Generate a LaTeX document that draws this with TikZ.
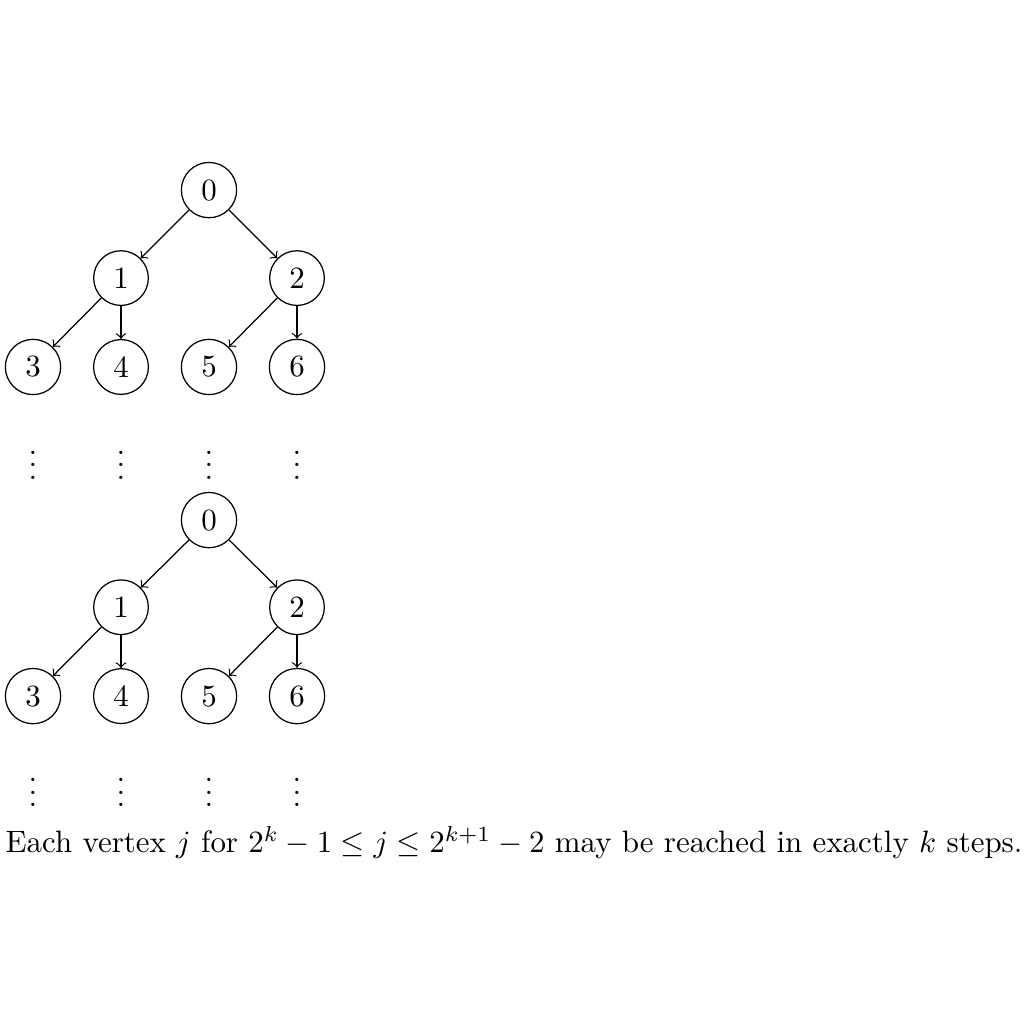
\documentclass[tikz,border=0pt]{standalone}

\begin{document}
\begin{tikzpicture}[x=1cm,y=1cm,vertex/.style={draw,circle},link/.style={->}]
\path[use as bounding box] (0,0) rectangle (11.636,-11.636);
% first tree
\node[vertex] (a0) at (2.375,-2.16) {0};
\node[vertex] (a1) at (1.375,-3.16) {1};
\node[vertex] (a2) at (3.375,-3.16) {2};
\node[vertex] (a3) at (0.375,-4.17) {3};
\node[vertex] (a4) at (1.375,-4.17) {4};
\node[vertex] (a5) at (2.375,-4.17) {5};
\node[vertex] (a6) at (3.375,-4.17) {6};
\draw[link] (a0) -- (a1);
\draw[link] (a0) -- (a2);
\draw[link] (a1) -- (a3);
\draw[link] (a1) -- (a4);
\draw[link] (a2) -- (a5);
\draw[link] (a2) -- (a6);
\foreach \i/\x in {3/0.375,4/1.375,5/2.375,6/3.375}
  \node[inner sep=0pt] (ad\i) at (\x,-5.18) {$\vdots$};
% second tree
\node[vertex] (b0) at (2.375,-5.91) {0};
\node[vertex] (b1) at (1.375,-6.9) {1};
\node[vertex] (b2) at (3.375,-6.9) {2};
\node[vertex] (b3) at (0.375,-7.91) {3};
\node[vertex] (b4) at (1.375,-7.91) {4};
\node[vertex] (b5) at (2.375,-7.91) {5};
\node[vertex] (b6) at (3.375,-7.91) {6};
\draw[link] (b0) -- (b1);
\draw[link] (b0) -- (b2);
\draw[link] (b1) -- (b3);
\draw[link] (b1) -- (b4);
\draw[link] (b2) -- (b5);
\draw[link] (b2) -- (b6);
\foreach \i/\x in {3/0.375,4/1.375,5/2.375,6/3.375}
  \node[inner sep=0pt] (bd\i) at (\x,-8.9) {$\vdots$};
\node[anchor=base west,inner sep=0pt] (note) at (0.057,-9.69)
  {Each vertex $j$ for $2^k-1\le j\le 2^{k+1}-2$ may be reached in exactly $k$ steps.};
\end{tikzpicture}
\end{document}
